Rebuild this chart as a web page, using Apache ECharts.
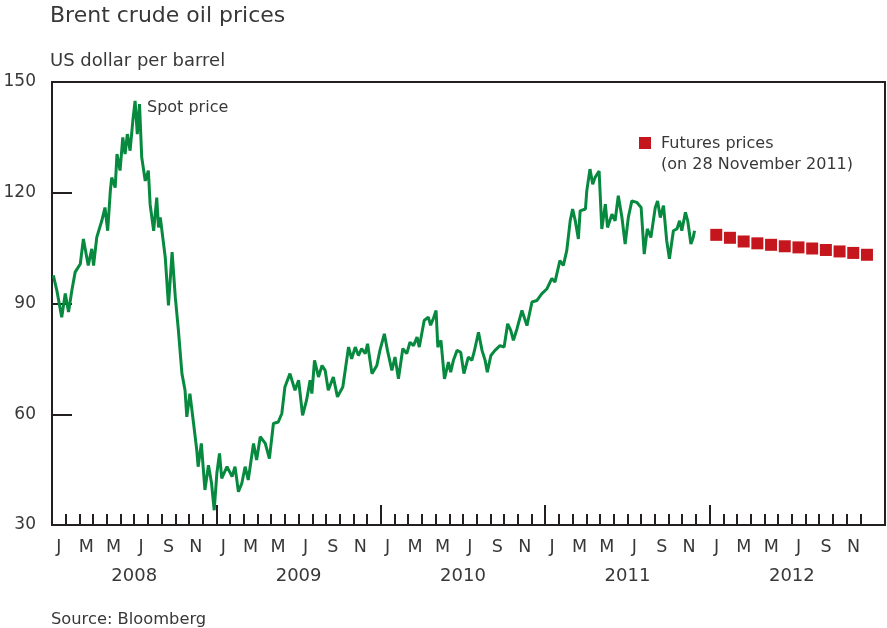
<!DOCTYPE html>
<html>
<head>
<meta charset="utf-8">
<script src="https://cdn.jsdelivr.net/npm/echarts@6/dist/echarts.min.js"></script>
<style>
html,body{margin:0;padding:0;background:#fff;}
#chart{width:887px;height:628px;}
</style>
</head>
<body>
<div id="chart"></div>
<script>
// ---- data ----
const monthLetters = ['J','F','M','A','M','J','J','A','S','O','N','D'];
const yearLabels = ['2008','2009','2010','2011','2012'];
const yMin = 30, yMax = 150, yStep = 30;

const spotDates = [
'2008-01-04','2008-01-12','2008-01-23','2008-01-31','2008-02-07','2008-02-14','2008-02-21','2008-03-03','2008-03-10','2008-03-21',
'2008-03-29','2008-04-02','2008-04-09','2008-04-20','2008-04-27','2008-05-03','2008-05-09','2008-05-12','2008-05-20','2008-05-24',
'2008-05-31','2008-06-06','2008-06-11','2008-06-16','2008-06-22','2008-06-28','2008-07-03','2008-07-08','2008-07-13','2008-07-18',
'2008-07-26','2008-08-02','2008-08-06','2008-08-14','2008-08-21','2008-08-25','2008-08-29','2008-09-09','2008-09-16','2008-09-24',
'2008-10-01','2008-10-08','2008-10-16','2008-10-23','2008-10-27','2008-11-03','2008-11-11','2008-11-18','2008-11-21','2008-11-28',
'2008-12-06','2008-12-14','2008-12-21','2008-12-27','2009-01-02','2009-01-08','2009-01-13','2009-01-25','2009-02-05','2009-02-11',
'2009-02-18','2009-02-25','2009-03-04','2009-03-11','2009-03-23','2009-03-30','2009-04-07','2009-04-18','2009-04-27','2009-05-06',
'2009-05-17','2009-05-25','2009-06-01','2009-06-12','2009-06-23','2009-07-01','2009-07-10','2009-07-19','2009-07-27','2009-07-31',
'2009-08-06','2009-08-15','2009-08-23','2009-08-30','2009-09-06','2009-09-17','2009-09-26','2009-10-08','2009-10-21','2009-10-28',
'2009-11-05','2009-11-12','2009-11-19','2009-11-27','2009-12-02','2009-12-12','2009-12-23','2009-12-30','2010-01-09','2010-01-16',
'2010-01-26','2010-02-02','2010-02-09','2010-02-18','2010-02-26','2010-03-05','2010-03-13','2010-03-21','2010-03-26','2010-04-06',
'2010-04-15','2010-04-20','2010-04-26','2010-05-02','2010-05-06','2010-05-13','2010-05-21','2010-05-30','2010-06-04','2010-06-10',
'2010-06-18','2010-06-26','2010-07-03','2010-07-13','2010-07-21','2010-07-26','2010-08-05','2010-08-13','2010-08-20','2010-08-25',
'2010-09-02','2010-09-11','2010-09-22','2010-10-01','2010-10-09','2010-10-16','2010-10-22','2010-10-30','2010-11-10','2010-11-21',
'2010-12-02','2010-12-13','2010-12-24','2011-01-05','2011-01-16','2011-01-23','2011-02-03','2011-02-10','2011-02-17','2011-02-24',
'2011-03-01','2011-03-07','2011-03-14','2011-03-18','2011-03-30','2011-04-02','2011-04-09','2011-04-15','2011-04-20','2011-04-29',
'2011-05-05','2011-05-13','2011-05-18','2011-05-28','2011-06-04','2011-06-11','2011-06-19','2011-06-26','2011-07-03','2011-07-11',
'2011-07-22','2011-08-01','2011-08-08','2011-08-15','2011-08-23','2011-09-02','2011-09-07','2011-09-13','2011-09-20','2011-09-27',
'2011-10-03','2011-10-12','2011-10-20','2011-10-26','2011-10-31','2011-11-08','2011-11-13','2011-11-20','2011-11-25','2011-11-28'
];
const spotPrices = [
97.6,93.5,86.3,92.7,87.7,93.5,98.5,100.7,107.5,100.3,
104.8,100.3,107.9,112.4,116.0,109.7,120.5,124.1,121.4,130.5,
126.0,135.0,130.5,135.9,131.4,139.5,144.9,135.9,144.0,129.6,
123.2,126.0,116.9,109.7,118.7,110.6,113.3,102.5,89.5,103.9,
91.7,82.7,71.0,66.5,59.3,65.6,57.5,50.3,45.8,52.1,
39.5,46.2,41.3,34.0,44.0,49.4,42.6,45.8,43.1,45.8,
39.0,41.3,45.8,42.2,52.1,47.6,53.9,52.1,48.0,57.5,
57.9,60.2,67.4,71.0,66.5,69.2,59.7,63.8,69.2,65.6,
74.6,70.1,73.2,71.9,66.5,70.1,64.7,67.4,78.2,75.0,
78.2,75.9,77.8,76.4,79.1,71.0,73.2,77.3,81.8,77.3,
71.9,75.5,69.6,77.8,76.4,79.5,78.6,80.9,78.2,85.4,
86.3,84.1,85.9,88.1,78.2,80.0,69.6,74.1,71.4,74.6,
77.3,76.8,71.0,75.5,74.6,76.8,82.2,77.3,74.6,71.4,
75.9,77.3,78.6,78.2,84.5,82.7,80.0,83.1,88.1,84.0,
90.4,90.8,92.6,94.0,96.8,95.8,101.6,100.3,104.3,112.4,
115.6,112.4,107.5,115.1,115.6,120.5,126.4,122.3,124.1,125.9,
110.2,116.9,110.6,114.2,112.4,119.2,113.3,106.1,113.3,117.8,
117.4,116.0,103.4,110.2,107.9,116.0,117.8,113.3,116.5,107.0,
102.1,109.7,110.2,112.4,109.7,114.7,112.4,106.1,107.9,109.7
];

const futuresMonths = ['2012-01','2012-02','2012-03','2012-04','2012-05','2012-06','2012-07','2012-08','2012-09','2012-10','2012-11','2012-12'];
const futuresPrices = [108.6,107.8,106.8,106.3,105.9,105.5,105.2,104.9,104.5,104.1,103.7,103.2];

// ---- helpers ----
function toMonths(s){
  const p = s.split('-').map(Number);
  const y = p[0], m = p[1];
  const dim = new Date(y, m, 0).getDate();
  const d = p.length > 2 ? p[2] : (dim + 1) / 2;
  return (y - 2008) * 12 + (m - 1) + (d - 1) / dim;
}
const totalMonths = yearLabels.length * 12;
const monthTicks = [], monthLabelPos = [], yearTicks = [], yearLabelPos = [];
for (let i = 1; i < totalMonths; i++) { if (i % 12 === 0) yearTicks.push(i); else monthTicks.push(i); }
for (let i = 0; i < totalMonths; i += 2) monthLabelPos.push(i + 0.5);
for (let i = 0; i < yearLabels.length; i++) yearLabelPos.push(i * 12 + 6);

const spotData = spotDates.map((d, i) => [toMonths(d), spotPrices[i]]);
const futData = futuresMonths.map((d, i) => [toMonths(d), futuresPrices[i]]);

const ink = '#231f20', txt = '#383838', font = '"DejaVu Sans", "Liberation Sans", Arial, sans-serif';
const green = '#078a3f', red = '#c4161c';

function label(text, x, y, size){
  return {type: 'text', style: {text: text, x: x, y: y, fontSize: size, fill: txt, fontFamily: font, verticalAlign: 'middle', align: 'left'}};
}

const chart = echarts.init(document.getElementById('chart'), null, {renderer: 'canvas'});
chart.setOption({
  animation: false,
  backgroundColor: '#fff',
  textStyle: {fontFamily: font},
  grid: {left: 52, right: 2, top: 82, bottom: 103, show: true, borderColor: ink, borderWidth: 2, backgroundColor: 'transparent'},
  xAxis: [{
    type: 'value', min: 0, max: 60.8, position: 'bottom',
    axisLine: {show: true, lineStyle: {color: ink, width: 2}},
    axisTick: {show: true, inside: true, length: 11, customValues: monthTicks, lineStyle: {color: ink, width: 2}},
    axisLabel: {show: true, customValues: monthLabelPos, margin: 13, fontSize: 17.5, color: txt, fontFamily: font,
      formatter: v => monthLetters[Math.floor(v) % 12]},
    splitLine: {show: false}
  }, {
    type: 'value', min: 0, max: 60.8, position: 'bottom',
    axisLine: {show: false},
    axisTick: {show: true, inside: true, length: 20, customValues: yearTicks, lineStyle: {color: ink, width: 2}},
    axisLabel: {show: true, customValues: yearLabelPos, margin: 42, fontSize: 18, color: txt, fontFamily: font,
      formatter: v => yearLabels[Math.floor(v / 12)]},
    splitLine: {show: false}
  }],
  yAxis: {
    type: 'value', min: yMin, max: yMax, interval: yStep,
    axisLine: {show: true, lineStyle: {color: ink, width: 2}},
    axisTick: {show: true, inside: true, length: 20, lineStyle: {color: ink, width: 2}},
    axisLabel: {margin: 16, fontSize: 17, color: txt, fontFamily: font},
    splitLine: {show: false}
  },
  series: [{
    name: 'Spot price', type: 'line', xAxisIndex: 0, data: spotData, showSymbol: false, symbol: 'none',
    lineStyle: {color: green, width: 3}, z: 3
  }, {
    name: 'Futures prices', type: 'scatter', xAxisIndex: 0, data: futData, symbol: 'rect', symbolSize: 12,
    itemStyle: {color: red, opacity: 1}, z: 4
  }],
  graphic: [
    label('Brent crude oil prices', 50, 16, 22),
    label('US dollar per barrel', 50, 61, 18),
    label('Source: Bloomberg', 51, 619.5, 16.3),
    label('Spot price', 147, 108, 16),
    {type: 'rect', shape: {x: 639, y: 137, width: 12, height: 12}, style: {fill: red}},
    label('Futures prices', 661, 144, 16),
    label('(on 28 November 2011)', 661, 165, 16)
  ]
});
</script>
</body>
</html>
